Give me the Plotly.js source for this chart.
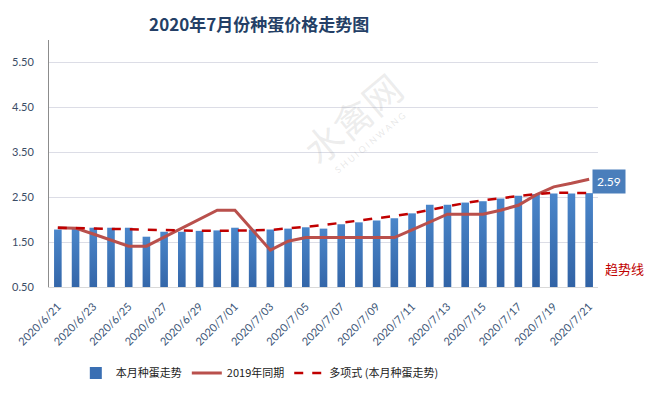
<!DOCTYPE html>
<html>
<head>
<meta charset="utf-8">
<script src="https://cdn.plot.ly/plotly-3.0.1.min.js"></script>
<style>
html,body{margin:0;padding:0;background:#fff;}
#chart{width:648px;height:393px;}
</style>
</head>
<body>
<div id="chart"></div>
<script>
const dates = ["2020/6/21","2020/6/22","2020/6/23","2020/6/24","2020/6/25","2020/6/26","2020/6/27","2020/6/28","2020/6/29","2020/6/30",
  "2020/7/01","2020/7/02","2020/7/03","2020/7/04","2020/7/05","2020/7/06","2020/7/07","2020/7/08","2020/7/09","2020/7/10",
  "2020/7/11","2020/7/12","2020/7/13","2020/7/14","2020/7/15","2020/7/16","2020/7/17","2020/7/18","2020/7/19","2020/7/20","2020/7/21"];
const thisMonth = [1.78,1.82,1.82,1.82,1.82,1.62,1.73,1.73,1.75,1.76,
  1.82,1.78,1.78,1.80,1.83,1.80,1.90,1.94,1.98,2.03,
  2.14,2.33,2.33,2.38,2.41,2.47,2.53,2.57,2.58,2.58,2.59];
const lastYear = [1.82,1.81,1.68,1.55,1.41,1.41,1.61,1.81,2.01,2.21,
  2.21,1.77,1.32,1.52,1.60,1.60,1.60,1.60,1.60,1.60,
  1.77,1.95,2.12,2.12,2.12,2.21,2.32,2.55,2.73,2.81,2.90];
const trend = [1.82,1.81,1.80,1.79,1.78,1.77,1.76,1.76,1.75,1.75,
  1.75,1.76,1.77,1.80,1.84,1.88,1.93,1.98,2.02,2.08,
  2.14,2.22,2.30,2.37,2.43,2.48,2.53,2.57,2.60,2.60,2.59];
const tickDates = dates.filter((d,i)=>i%2===0);
const yTicks = [0.5,1.5,2.5,3.5,4.5,5.5];
const yTickText = ["0.50","1.50","2.50","3.50","4.50","5.50"];
const names = ["本月种蛋走势","2019年同期","多项式 (本月种蛋走势)"];
const labelValue = "2.59";

const fontFam = "Lato, 'Noto Sans CJK SC', sans-serif";
const cjk = "'Noto Sans CJK SC', sans-serif";

const traces = [
  {type:'bar', x:dates, y:thisMonth, name:names[0],
   marker:{color:'#3a6fb3'}, hoverinfo:'skip'},
  {type:'scatter', mode:'lines', x:dates, y:lastYear, name:names[1],
   line:{color:'#b9504c', width:3}, hoverinfo:'skip'},
  {type:'scatter', mode:'lines', x:dates, y:trend, name:names[2],
   line:{color:'#c00000', width:2.5, dash:'dash'}, hoverinfo:'skip'}
];

const layout = {
  width:648, height:393,
  margin:{l:49, r:50, t:40, b:106, autoexpand:false},
  paper_bgcolor:'#ffffff', plot_bgcolor:'#ffffff',
  font:{family:fontFam, size:11, color:'#333'},
  title:{text:'<b>2020年7月份种蛋价格走势图</b>', x:0.40, xanchor:'center', y:0.935, yanchor:'middle', automargin:false,
    font:{family:cjk, size:17, color:'#243f66'}},
  bargap:0.57,
  showlegend:true,
  legend:{orientation:'h', x:0.384, xanchor:'center', y:-0.348, yanchor:'middle',
    font:{family:cjk, size:11, color:'#222'}, itemwidth:30, tracegroupgap:0},
  xaxis:{type:'category', range:[-0.5,30.5], tickvals:tickDates, ticktext:tickDates, tickangle:-45,
    tickfont:{family:fontFam, size:11, color:'#3b5576'}, showgrid:false, zeroline:false, automargin:false,
    showline:true, linecolor:'#d9d9d9', linewidth:1, ticks:'', ticklabelstandoff:8, fixedrange:true},
  yaxis:{range:[0.5,6.0], tickvals:yTicks, ticktext:yTickText, showgrid:true, gridcolor:'#dcdde6', gridwidth:1,
    tickfont:{family:fontFam, size:11, color:'#3b4c66'}, zeroline:false, showline:true, linecolor:'#8c8c8c',
    linewidth:1, ticks:'', ticklabelstandoff:12, automargin:false, fixedrange:true},
  annotations:[
    {x:dates[dates.length-1], y:2.86, xref:'x', yref:'y', text:labelValue, showarrow:false,
     xanchor:'left', xshift:3, bgcolor:'#4a7ebb', borderpad:4, font:{family:fontFam, size:12, color:'#ffffff'}},
    {x:1.049, y:0.92, xref:'paper', yref:'y', text:'趋势线', showarrow:false, xanchor:'center',
     font:{family:cjk, size:13, color:'#c00000'}},
    {x:0.552, y:4.27, xref:'paper', yref:'y', text:'水禽网', showarrow:false, textangle:-40,
     font:{family:cjk, size:38, color:'rgba(160,160,160,0.2)'}},
    {x:0.585, y:3.71, xref:'paper', yref:'y', text:'S H U I Q I N W A N G', showarrow:false, textangle:-40,
     font:{family:fontFam, size:9, color:'rgba(160,160,160,0.25)'}}
  ]
};

Plotly.newPlot('chart', traces, layout, {staticPlot:true, displayModeBar:false}).then(gd=>{
  const svg = gd.querySelector('svg.main-svg');
  const ns = 'http://www.w3.org/2000/svg';
  let defs = svg.querySelector('defs');
  if(!defs){defs=document.createElementNS(ns,'defs');svg.insertBefore(defs,svg.firstChild);}
  const lg = document.createElementNS(ns,'linearGradient');
  lg.setAttribute('id','barGrad'); lg.setAttribute('x1','0'); lg.setAttribute('y1','0');
  lg.setAttribute('x2','0'); lg.setAttribute('y2','1');
  [['0','#4a86ca'],['1','#2b5a9c']].forEach(([o,c])=>{
    const s=document.createElementNS(ns,'stop'); s.setAttribute('offset',o); s.setAttribute('stop-color',c); lg.appendChild(s);
  });
  defs.appendChild(lg);
  gd.querySelectorAll('.barlayer .point path').forEach(p=>{ p.style.fill='url(#barGrad)'; });
});
</script>
</body>
</html>
